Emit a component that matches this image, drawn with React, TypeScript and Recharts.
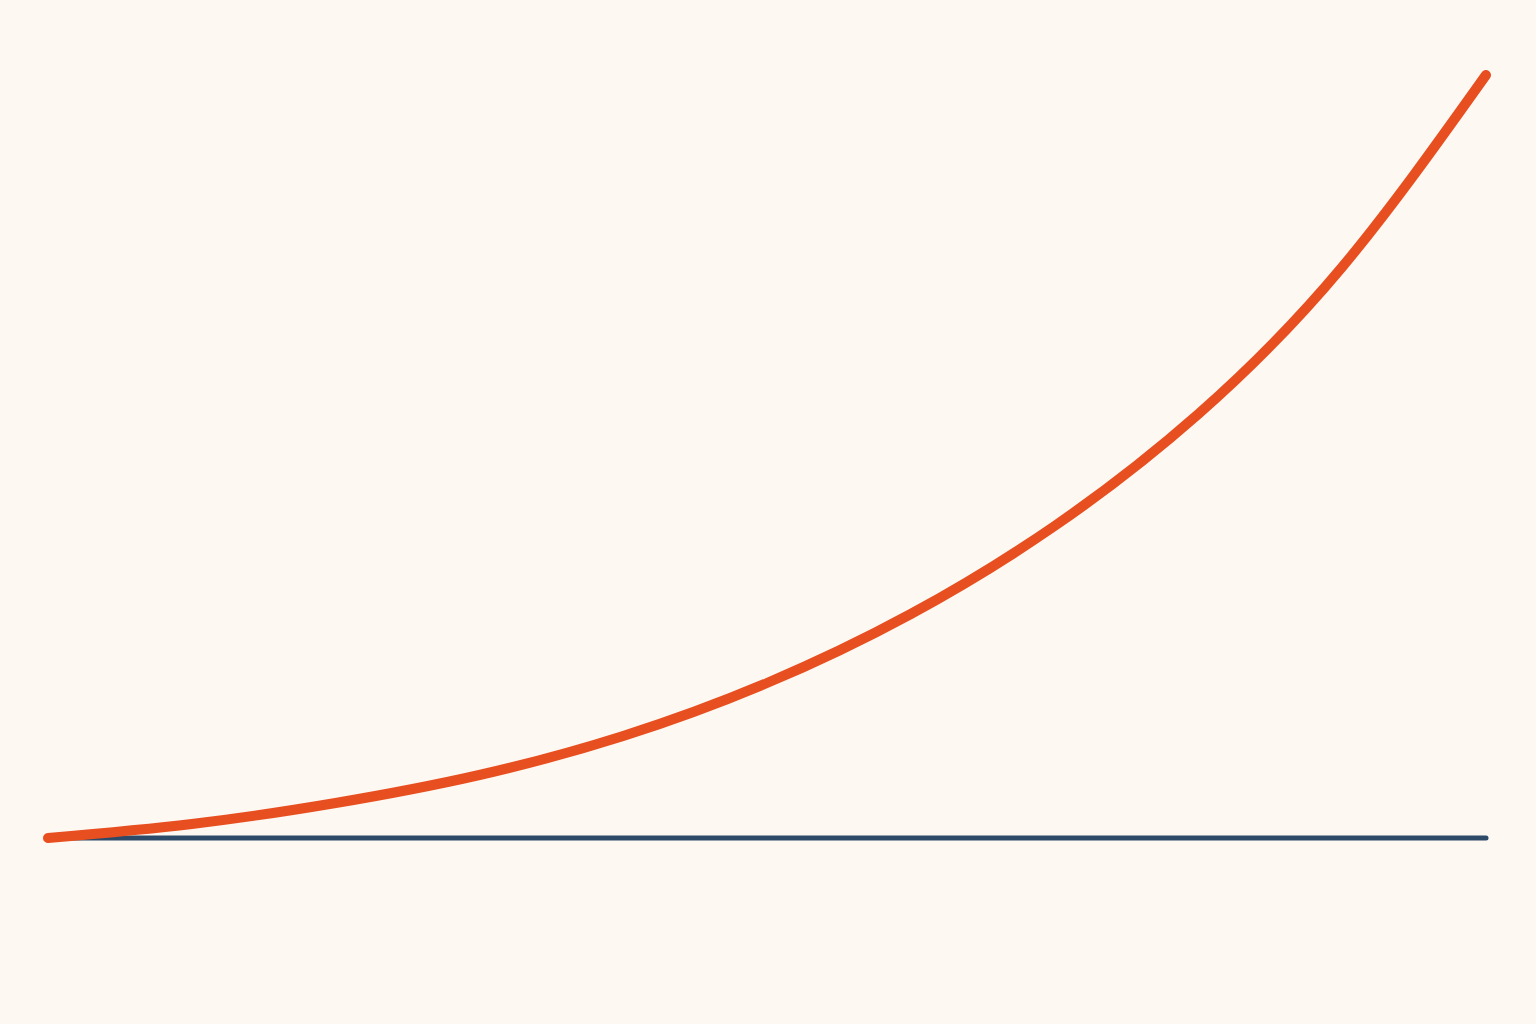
import React from "react"
import { LineChart, Line, XAxis, YAxis } from "recharts"

// step index along the x axis
const steps = [0, 1, 2, 3, 4, 5, 6, 7, 8, 9, 10]
// rising curve
const growth = [0, 14, 35, 63, 102, 155, 224, 312, 424, 571, 763]
// flat reference series
const baseline = [0, 0, 0, 0, 0, 0, 0, 0, 0, 0, 0]

const data = steps.map((t, i) => ({ t, growth: growth[i], base: baseline[i] }))

export default function App() {
  return (
    <div
      style={{
        position: "absolute",
        top: 0,
        left: 0,
        width: 1536,
        height: 1024,
        background: "#fdf8f2",
      }}
    >
      <LineChart
        width={1536}
        height={1024}
        data={data}
        margin={{ top: 75, right: 50, bottom: 186, left: 48 }}
      >
        <XAxis dataKey="t" type="number" domain={[0, 10]} hide />
        <YAxis type="number" domain={[0, 763]} hide />
        <Line
          dataKey="base"
          type="linear"
          stroke="#2d4a68"
          strokeWidth={5}
          strokeLinecap="round"
          dot={false}
          activeDot={false}
          isAnimationActive={false}
        />
        <Line
          dataKey="growth"
          type="natural"
          stroke="#e84f20"
          strokeWidth={10}
          strokeLinecap="round"
          dot={false}
          activeDot={false}
          isAnimationActive={false}
        />
      </LineChart>
    </div>
  )
}
